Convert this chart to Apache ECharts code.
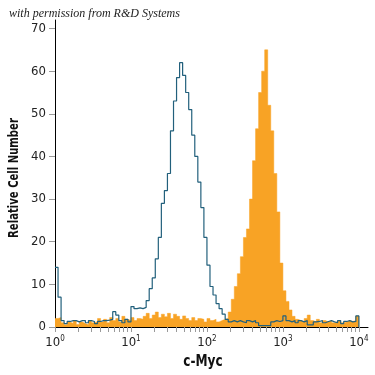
<!DOCTYPE html>
<html>
<head>
<meta charset="utf-8">
<script src="https://cdn.jsdelivr.net/npm/echarts@6/dist/echarts.min.js"></script>
<style>html,body{margin:0;padding:0;background:#fff}#c{width:375px;height:375px}</style>
</head>
<body>
<div id="c"></div>
<script>
// Histogram channels: 25 channels per decade, channel 0 = 10^0, channel 100 = 10^4
const channelsPerDecade = 25;
const decadeExponents = ['0', '1', '2', '3', '4'];
const minorMultipliers = [2, 3, 4, 5, 6, 7, 8, 9];
const yTicks = [0, 10, 20, 30, 40, 50, 60, 70];

// Isotype control (blue outline), counts per channel 0..100
const isotypeCounts = [
  14, 7, 1.5, 0.8, 1.3, 1.5, 1.5, 1.2, 1.5, 1.5,
  1.0, 1.5, 1.3, 0.8, 1.3, 1.5, 1.5, 1.6, 1.8, 3.6,
  2.8, 1.5, 1.0, 1.8, 1.2, 4.8, 4.3, 4.5, 4.3, 4.6,
  6.2, 9, 11.5, 16, 21, 29, 32, 36, 46, 53,
  58.5, 62, 59, 55, 51, 45, 40, 34, 28, 21,
  14.5, 9.5, 7.5, 5.5, 4.3, 3, 1.8, 1.2, 1.5, 1.2,
  1.5, 1.2, 1.0, 1.5, 1.2, 1.5, 1.0, 0.3, 0.3, 0.3,
  0.3, 1.2, 1.5, 1.3, 1.5, 2.6, 1.5, 1.2, 1.5, 1.0,
  1.5, 1.2, 1.5, 0.5, 0.5, 1.2, 1.3, 1.5, 1.0, 1.3,
  1.5, 1.2, 1.0, 1.5, 0.8, 1.3, 1.5, 1.2, 1.3, 2.6,
  0
];

// c-Myc stained cells (orange filled), counts per channel 0..100
const stainedCounts = [
  2.0, 2.2, 1.0, 0.5, 1.2, 0.8, 1.5, 0.6, 1.2, 0.8,
  0.5, 1.5, 1.0, 1.3, 2.0, 1.2, 1.8, 1.0, 2.2, 1.5,
  2.0, 1.2, 2.5, 1.8, 1.5, 2.2, 1.5, 2.0, 1.8, 2.5,
  3.2, 2.0, 2.8, 3.5, 2.2, 3.0, 2.4, 3.2, 2.0, 3.0,
  2.5, 1.8, 2.6, 2.0, 1.5, 2.2, 1.5, 2.0, 1.8, 1.2,
  2.0, 1.5, 1.8, 1.2, 1.5, 1.8, 2.0, 3.5, 6.5, 9.5,
  12.5, 16.5, 21, 23, 30, 39, 46.5, 55, 60, 65,
  52, 46, 36, 27, 15, 8.5, 6, 4, 2.5, 1.8,
  1.5, 1.2, 2.0, 2.8, 1.5, 1.2, 1.8, 1.0, 1.5, 1.2,
  1.5, 1.0, 1.3, 1.5, 1.0, 1.2, 1.5, 1.3, 1.5, 2.6,
  0
];

const yAxisTitle = 'Relative Cell Number';
const xAxisTitle = 'c-Myc';
const credit = 'with permission from R&D Systems';

const font = "'Liberation Sans Narrow','DejaVu Sans Condensed','Liberation Sans',sans-serif";

const majorTickChannels = decadeExponents.map((e, i) => i * channelsPerDecade);
const minorTickChannels = [];
for (let d = 0; d < decadeExponents.length - 1; d++) {
  minorMultipliers.forEach(m => minorTickChannels.push(channelsPerDecade * (d + Math.log10(m))));
}
const allTicks = majorTickChannels.concat(minorTickChannels).sort((a, b) => a - b);

const chart = echarts.init(document.getElementById('c'), null, {renderer: 'canvas'});
chart.setOption({
  animation: false,
  backgroundColor: '#ffffff',
  grid: {left: 55, right: 7, top: 20, bottom: 48, containLabel: false, outerBoundsMode: 'none'},
  xAxis: {
    type: 'value', min: 0, max: 103,
    axisLine: {show: true, lineStyle: {color: '#000', width: 1}},
    axisTick: {show: true, customValues: allTicks, length: 5, lineStyle: {color: '#9a9a9a', width: 1}},
    axisLabel: {
      customValues: majorTickChannels, margin: 8,
      formatter: v => '{b|10}{s|' + decadeExponents[Math.round(v / channelsPerDecade)] + '}',
      rich: {
        b: {fontFamily: font, fontSize: 13, color: '#222'},
        s: {fontFamily: font, fontSize: 8, color: '#222', padding: [0, 0, 7, 0]}
      }
    },
    splitLine: {show: false}
  },
  yAxis: {
    type: 'value', min: 0, max: 72, interval: 10,
    axisLine: {show: true, lineStyle: {color: '#000', width: 1}},
    axisTick: {show: true, customValues: yTicks, length: 6, lineStyle: {color: '#9a9a9a', width: 1}},
    axisLabel: {customValues: yTicks, margin: 9, fontFamily: font, fontSize: 13, color: '#222'},
    splitLine: {show: false}
  },
  series: [
    {
      type: 'line', step: 'end', symbol: 'none', z: 2,
      data: stainedCounts.map((v, i) => [i, v]),
      lineStyle: {color: '#F8A325', width: 0.5},
      areaStyle: {color: '#F8A325', opacity: 1}
    },
    {
      type: 'line', step: 'end', symbol: 'none', z: 3,
      data: isotypeCounts.map((v, i) => [i, v]),
      lineStyle: {color: '#22607c', width: 1.2}
    }
  ],
  graphic: [
    {type: 'text', left: 9, top: 8, style: {text: credit, fontFamily: "'Liberation Serif','DejaVu Serif',serif", fontStyle: 'italic', fontSize: 12, fill: '#222'}},
    {type: 'text', x: 203, y: 362, scaleX: 0.9, style: {text: xAxisTitle, align: 'center', verticalAlign: 'middle', fontFamily: font, fontSize: 15, fontWeight: 'bold', fill: '#111'}},
    {type: 'text', x: 14, y: 178, rotation: Math.PI / 2, scaleX: 0.8, style: {text: yAxisTitle, align: 'center', verticalAlign: 'middle', fontFamily: font, fontSize: 14, fontWeight: 'bold', fill: '#111'}}
  ]
});
</script>
</body>
</html>
